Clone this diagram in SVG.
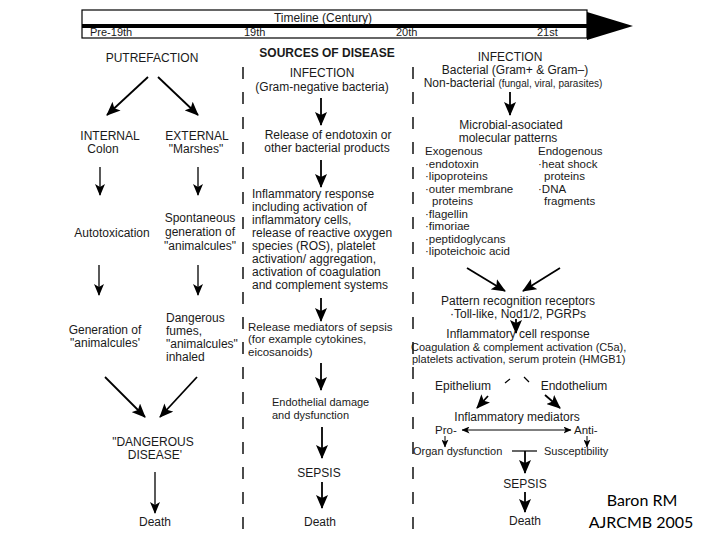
<svg xmlns="http://www.w3.org/2000/svg" width="720" height="540" viewBox="0 0 720 540">
<style>
text{font-family:"Liberation Sans",Arial,sans-serif;font-size:12px;fill:#1a1a1a}
.m{text-anchor:middle}
.s11{font-size:11px}
.s115{font-size:11.5px}
.b{font-weight:bold}
.cite{font-family:Lato,"Liberation Sans",sans-serif;font-size:16px;fill:#000}
.ln{stroke:#000;fill:none}
.big{stroke-width:1.8;marker-end:url(#ah)}
.med{stroke-width:1.3;marker-end:url(#am)}
.sm{stroke-width:1;marker-end:url(#as)}
.dash{stroke:#000;stroke-width:1.4;stroke-dasharray:12 13;fill:none}
</style>
<defs>
<marker id="ah" markerUnits="userSpaceOnUse" viewBox="0 0 14 12" markerWidth="14" markerHeight="12" refX="13" refY="6" orient="auto"><path d="M0,0 L14,6 L0,12 L3,6 z" fill="#000"/></marker>
<marker id="am" markerUnits="userSpaceOnUse" viewBox="0 0 12 10" markerWidth="12" markerHeight="10" refX="11" refY="5" orient="auto"><path d="M0,0 L12,5 L0,10 L3,5 z" fill="#000"/></marker>
<marker id="as" markerUnits="userSpaceOnUse" viewBox="0 0 8 7" markerWidth="8" markerHeight="7" refX="7.5" refY="3.5" orient="auto"><path d="M0,0 L8,3.5 L0,7 L2,3.5 z" fill="#000"/></marker>
<marker id="ass" markerUnits="userSpaceOnUse" viewBox="0 0 8 7" markerWidth="8" markerHeight="7" refX="0.5" refY="3.5" orient="auto"><path d="M8,0 L0,3.5 L8,7 L6,3.5 z" fill="#000"/></marker>
</defs>
<rect width="720" height="540" fill="#fff"/>

<g id="timeline">
<rect x="82" y="10" width="505" height="28" fill="#fff" stroke="#000" stroke-width="1.2"/>
<rect x="82" y="24" width="505" height="4" fill="#000"/>
<polygon points="587,12 633,26 587,40" fill="#000"/>
<text x="323" y="21.5" class="m">Timeline (Century)</text>
<text x="90" y="36" class="s11">Pre-19th</text>
<text x="244" y="36" class="s11">19th</text>
<text x="396" y="36" class="s11">20th</text>
<text x="537" y="36" class="s11">21st</text>
</g>

<g id="dividers">
<line x1="243" y1="67" x2="243" y2="530" class="dash"/>
<line x1="413" y1="67" x2="413" y2="530" class="dash"/>
</g>

<g id="title"><text x="327" y="57" class="m b">SOURCES OF DISEASE</text></g>

<!-- Left column -->
<g id="putrefaction"><text x="152" y="62" class="m">PUTREFACTION</text></g>
<g id="internal"><text x="110" y="140" class="m">INTERNAL</text><text x="103" y="153" class="m">Colon</text></g>
<g id="external"><text x="197" y="140" class="m">EXTERNAL</text><text x="196" y="153" class="m">"Marshes"</text></g>
<g id="autotoxication"><text x="112" y="237" class="m">Autotoxication</text></g>
<g id="spontaneous"><text x="200" y="222" class="m">Spontaneous</text><text x="200" y="236" class="m">generation of</text><text x="200" y="250" class="m">"animalcules"</text></g>
<g id="generation"><text x="105" y="334" class="m">Generation of</text><text x="105" y="347" class="m">"animalcules'</text></g>
<g id="fumes"><text x="166" y="322">Dangerous</text><text x="166" y="335">fumes,</text><text x="166" y="348">"animalcules"</text><text x="166" y="361">inhaled</text></g>
<g id="dangerous"><text x="153" y="446" class="m">"DANGEROUS</text><text x="155" y="459" class="m">DISEASE'</text></g>
<g id="death-left"><text x="155" y="526" class="m">Death</text></g>

<!-- Middle column -->
<g id="infection-mid"><text x="322" y="77" class="m">INFECTION</text><text x="322" y="91" class="m">(Gram-negative bacteria)</text></g>
<g id="release-endotoxin"><text x="328" y="139" class="m">Release of endotoxin or</text><text x="327" y="152" class="m">other bacterial products</text></g>
<g id="inflammatory-response">
<text x="252" y="198">Inflammatory response</text>
<text x="252" y="211">including activation of</text>
<text x="252" y="224">inflammatory cells,</text>
<text x="252" y="237">release of reactive oxygen</text>
<text x="252" y="250">species (ROS), platelet</text>
<text x="252" y="263">activation/ aggregation,</text>
<text x="252" y="276">activation of coagulation</text>
<text x="252" y="289">and complement systems</text>
</g>
<g id="release-mediators" class="s115"><text x="248" y="330.5" class="s115">Release mediators of sepsis</text><text x="248" y="343" class="s115">(for example cytokines,</text><text x="248" y="355.5" class="s115">eicosanoids)</text></g>
<g id="endothelial"><text x="272" y="406" class="s11">Endothelial damage</text><text x="272" y="419" class="s11">and dysfunction</text></g>
<g id="sepsis-mid"><text x="319" y="477" class="m">SEPSIS</text></g>
<g id="death-mid"><text x="320" y="526" class="m">Death</text></g>

<!-- Right column -->
<g id="infection-right"><text x="510" y="61" class="m">INFECTION</text><text x="515" y="74" class="m">Bacterial (Gram+ &amp; Gram–)</text><text x="513" y="87" class="m">Non-bacterial <tspan font-size="10">(fungal, viral, parasites)</tspan></text></g>
<g id="mamps"><text x="511" y="129" class="m">Microbial-asociated</text><text x="508" y="142" class="m">molecular patterns</text></g>
<g id="exogenous">
<text x="425" y="155" class="s115">Exogenous</text>
<text x="425" y="167.5" class="s115">·endotoxin</text>
<text x="425" y="180" class="s115">·lipoproteins</text>
<text x="425" y="192.5" class="s115">·outer membrane</text>
<text x="432" y="205" class="s115">proteins</text>
<text x="425" y="217.5" class="s115">·flagellin</text>
<text x="425" y="230" class="s115">·fimoriae</text>
<text x="425" y="242.5" class="s115">·peptidoglycans</text>
<text x="425" y="255" class="s115">·lipoteichoic acid</text>
</g>
<g id="endogenous">
<text x="538" y="155" class="s115">Endogenous</text>
<text x="538" y="167.5" class="s115">·heat shock</text>
<text x="544" y="180" class="s115">proteins</text>
<text x="538" y="192.5" class="s115">·DNA</text>
<text x="544" y="205" class="s115">fragments</text>
</g>
<g id="prr"><text x="518" y="305" class="m">Pattern recognition receptors</text><text x="518" y="318" class="m">·Toll-like, Nod1/2, PGRPs</text></g>
<g id="cell-response"><text x="518" y="338" class="m">Inflammatory cell response</text><text x="411" y="351" class="s11">Coagulation &amp; complement activation (C5a),</text><text x="412" y="363" class="s11">platelets activation, serum protein (HMGB1)</text></g>
<g id="epithelium"><text x="463" y="390" class="m">Epithelium</text></g>
<g id="endothelium"><text x="574" y="390" class="m">Endothelium</text></g>
<g id="mediators"><text x="517" y="420.5" class="m">Inflammatory mediators</text></g>
<g id="pro"><text x="435" y="434" class="s115">Pro-</text></g>
<g id="anti"><text x="574" y="434" class="s115">Anti-</text></g>
<g id="organ"><text x="413" y="455" class="s11">Organ dysfunction</text></g>
<g id="susceptibility"><text x="544" y="455" class="s11">Susceptibility</text></g>
<g id="sepsis-right"><text x="525" y="488" class="m">SEPSIS</text></g>
<g id="death-right"><text x="525" y="525" class="m">Death</text></g>

<g id="citation"><text x="642" y="506" class="cite m">Baron RM</text><text x="641" y="528" class="cite m">AJRCMB 2005</text></g>

<g id="connectors">
<line x1="148" y1="77" x2="107" y2="115" class="ln big"/>
<line x1="158" y1="77" x2="198" y2="115" class="ln big"/>
<line x1="100" y1="167" x2="100" y2="195" class="ln med"/>
<line x1="198" y1="167" x2="198" y2="195" class="ln med"/>
<line x1="99" y1="265" x2="99" y2="295" class="ln med"/>
<line x1="198" y1="265" x2="198" y2="295" class="ln med"/>
<line x1="105" y1="377" x2="145" y2="417" class="ln big"/>
<line x1="197" y1="377" x2="160" y2="417" class="ln big"/>
<line x1="155" y1="472" x2="155" y2="513" class="ln med"/>
<line x1="321" y1="98" x2="321" y2="125" class="ln big"/>
<line x1="321" y1="160" x2="321" y2="187" class="ln big"/>
<line x1="321" y1="298" x2="321" y2="321" class="ln big"/>
<line x1="321" y1="363" x2="321" y2="390" class="ln big"/>
<line x1="322" y1="427" x2="322" y2="458" class="ln big"/>
<line x1="322" y1="482" x2="322" y2="508" class="ln big"/>
<line x1="510" y1="92" x2="510" y2="115" class="ln big"/>
<line x1="467" y1="268" x2="505" y2="291" class="ln big"/>
<line x1="560" y1="268" x2="523" y2="291" class="ln big"/>
<line x1="516" y1="319" x2="516" y2="333" class="ln big"/>
<line x1="505" y1="383" x2="510" y2="379" class="ln" stroke-width="1.2"/>
<line x1="524" y1="377" x2="529" y2="382" class="ln" stroke-width="1.2"/>
<line x1="488" y1="396" x2="477" y2="408" class="ln big"/>
<line x1="545" y1="395" x2="560" y2="408" class="ln big"/>
<line x1="462" y1="430" x2="571" y2="430" class="ln" stroke-width="1" marker-start="url(#ass)" marker-end="url(#as)"/>
<line x1="445" y1="436" x2="445" y2="447" class="ln sm"/>
<line x1="587" y1="436" x2="587" y2="447" class="ln sm"/>
<line x1="512" y1="451" x2="537" y2="451" class="ln" stroke-width="1.2"/>
<line x1="525" y1="451" x2="525" y2="473" class="ln big"/>
<line x1="525" y1="492" x2="525" y2="512" class="ln big"/>
</g>
</svg>
